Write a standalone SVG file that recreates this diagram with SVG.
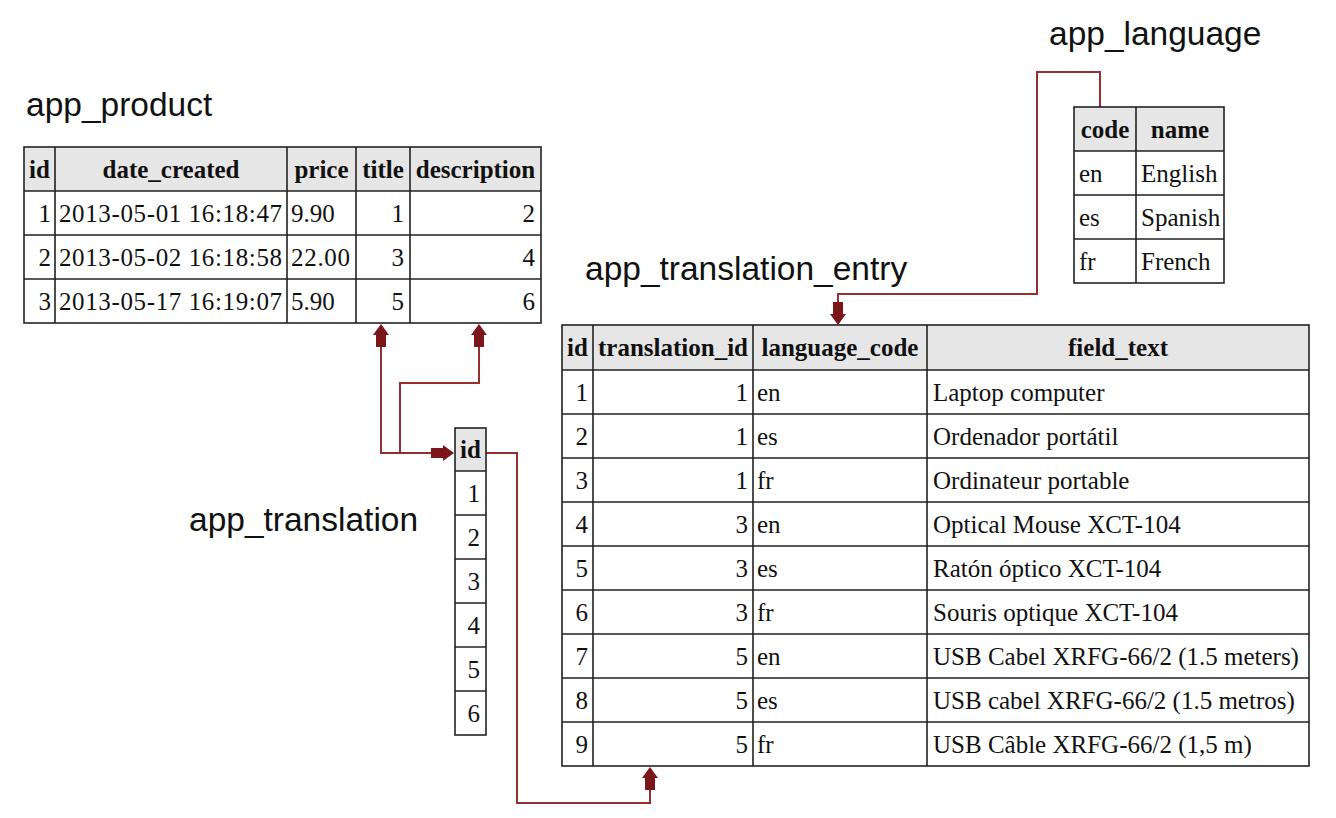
<svg xmlns="http://www.w3.org/2000/svg" width="1336" height="818" viewBox="0 0 1336 818">
<style>
.lbl{font-family:"Liberation Sans",Arial,sans-serif;font-size:33.5px;fill:#111}
.t{font-family:"Liberation Serif","Times New Roman",serif;font-size:25px;fill:#111}
.h{font-family:"Liberation Serif","Times New Roman",serif;font-size:25px;font-weight:bold;fill:#111;text-anchor:middle}
.r{text-anchor:end}
.hd{fill:#e6e6e6}
.grid{fill:none;stroke:#222;stroke-width:1.6}
.con{fill:none;stroke:#952e2e;stroke-width:2}
.arr{fill:#7b161a}
</style>
<defs>
<path id="arrUp" d="M0,0 L8,11 L5,11 L5,23 L-5,23 L-5,11 L-8,11 Z"/>
</defs>
<rect width="1336" height="818" fill="#fff"/>

<g id="connectors">
<path class="con" d="M381,345 V453 H432"/>
<path class="con" d="M479,345 V383 H400 V453"/>
<path class="con" d="M486,453 H517 V803 H650 V788"/>
<path class="con" d="M1100,107 V72 H1037 V294 H838 V304"/>
<use href="#arrUp" class="arr" transform="translate(381,324)"/>
<use href="#arrUp" class="arr" transform="translate(479,324)"/>
<use href="#arrUp" class="arr" transform="translate(454,453) rotate(90)"/>
<use href="#arrUp" class="arr" transform="translate(650,767)"/>
<use href="#arrUp" class="arr" transform="translate(838,325) rotate(180)"/>
</g>

<g id="app_product">
<text class="lbl" x="26" y="116">app_product</text>
<rect class="hd" x="24" y="147" width="517" height="44"/>
<rect class="grid" x="24" y="147" width="517" height="176"/>
<path class="grid" d="M24,191 H541 M24,235 H541 M24,279 H541 M55,147 V323 M287,147 V323 M356,147 V323 M410,147 V323"/>
<text class="h" x="39.5" y="178">id</text>
<text class="h" x="171" y="178">date_created</text>
<text class="h" x="321.5" y="178">price</text>
<text class="h" x="383" y="178">title</text>
<text class="h" x="475.5" y="178">description</text>
<text class="t r" x="51" y="222">1</text>
<text class="t" x="59" y="222" textLength="223">2013-05-01 16:18:47</text>
<text class="t" x="291" y="222">9.90</text>
<text class="t r" x="404" y="222">1</text>
<text class="t r" x="535" y="222">2</text>
<text class="t r" x="51" y="266">2</text>
<text class="t" x="59" y="266" textLength="223">2013-05-02 16:18:58</text>
<text class="t" x="291" y="266" textLength="59">22.00</text>
<text class="t r" x="404" y="266">3</text>
<text class="t r" x="535" y="266">4</text>
<text class="t r" x="51" y="310">3</text>
<text class="t" x="59" y="310" textLength="223">2013-05-17 16:19:07</text>
<text class="t" x="291" y="310">5.90</text>
<text class="t r" x="404" y="310">5</text>
<text class="t r" x="535" y="310">6</text>
</g>

<g id="app_translation">
<text class="lbl" x="189" y="531">app_translation</text>
<rect class="hd" x="455" y="428" width="31" height="43"/>
<rect class="grid" x="455" y="428" width="31" height="307"/>
<path class="grid" d="M455,471 H486 M455,515 H486 M455,559 H486 M455,603 H486 M455,647 H486 M455,691 H486"/>
<text class="h" x="470.5" y="458">id</text>
<text class="t r" x="480" y="502">1</text>
<text class="t r" x="480" y="546">2</text>
<text class="t r" x="480" y="590">3</text>
<text class="t r" x="480" y="634">4</text>
<text class="t r" x="480" y="678">5</text>
<text class="t r" x="480" y="722">6</text>
</g>

<g id="app_language">
<text class="lbl" x="1049" y="45">app_language</text>
<rect class="hd" x="1074" y="107" width="150" height="44"/>
<rect class="grid" x="1074" y="107" width="150" height="176"/>
<path class="grid" d="M1074,151 H1224 M1074,195 H1224 M1074,239 H1224 M1136,107 V283"/>
<text class="h" x="1105" y="138">code</text>
<text class="h" x="1180" y="138">name</text>
<text class="t" x="1079" y="182">en</text>
<text class="t" x="1141" y="182">English</text>
<text class="t" x="1079" y="226">es</text>
<text class="t" x="1141" y="226">Spanish</text>
<text class="t" x="1079" y="270">fr</text>
<text class="t" x="1141" y="270">French</text>
</g>

<g id="app_translation_entry">
<text class="lbl" x="585" y="280">app_translation_entry</text>
<rect class="hd" x="562" y="325" width="747" height="45"/>
<rect class="grid" x="562" y="325" width="747" height="441"/>
<path class="grid" d="M562,370 H1309 M562,414 H1309 M562,458 H1309 M562,502 H1309 M562,546 H1309 M562,590 H1309 M562,634 H1309 M562,678 H1309 M562,722 H1309 M593,325 V766 M753,325 V766 M927,325 V766"/>
<text class="h" x="577.5" y="356">id</text>
<text class="h" x="673" y="356">translation_id</text>
<text class="h" x="840" y="356">language_code</text>
<text class="h" x="1118" y="356">field_text</text>
<text class="t r" x="588" y="401">1</text><text class="t r" x="748" y="401">1</text><text class="t" x="757" y="401">en</text><text class="t" x="933" y="401">Laptop computer</text>
<text class="t r" x="588" y="445">2</text><text class="t r" x="748" y="445">1</text><text class="t" x="757" y="445">es</text><text class="t" x="933" y="445">Ordenador portátil</text>
<text class="t r" x="588" y="489">3</text><text class="t r" x="748" y="489">1</text><text class="t" x="757" y="489">fr</text><text class="t" x="933" y="489">Ordinateur portable</text>
<text class="t r" x="588" y="533">4</text><text class="t r" x="748" y="533">3</text><text class="t" x="757" y="533">en</text><text class="t" x="933" y="533">Optical Mouse XCT-104</text>
<text class="t r" x="588" y="577">5</text><text class="t r" x="748" y="577">3</text><text class="t" x="757" y="577">es</text><text class="t" x="933" y="577">Ratón óptico XCT-104</text>
<text class="t r" x="588" y="621">6</text><text class="t r" x="748" y="621">3</text><text class="t" x="757" y="621">fr</text><text class="t" x="933" y="621">Souris optique XCT-104</text>
<text class="t r" x="588" y="665">7</text><text class="t r" x="748" y="665">5</text><text class="t" x="757" y="665">en</text><text class="t" x="933" y="665">USB Cabel XRFG-66/2 (1.5 meters)</text>
<text class="t r" x="588" y="709">8</text><text class="t r" x="748" y="709">5</text><text class="t" x="757" y="709">es</text><text class="t" x="933" y="709">USB cabel XRFG-66/2 (1.5 metros)</text>
<text class="t r" x="588" y="753">9</text><text class="t r" x="748" y="753">5</text><text class="t" x="757" y="753">fr</text><text class="t" x="933" y="753">USB Câble XRFG-66/2 (1,5 m)</text>
</g>
</svg>
